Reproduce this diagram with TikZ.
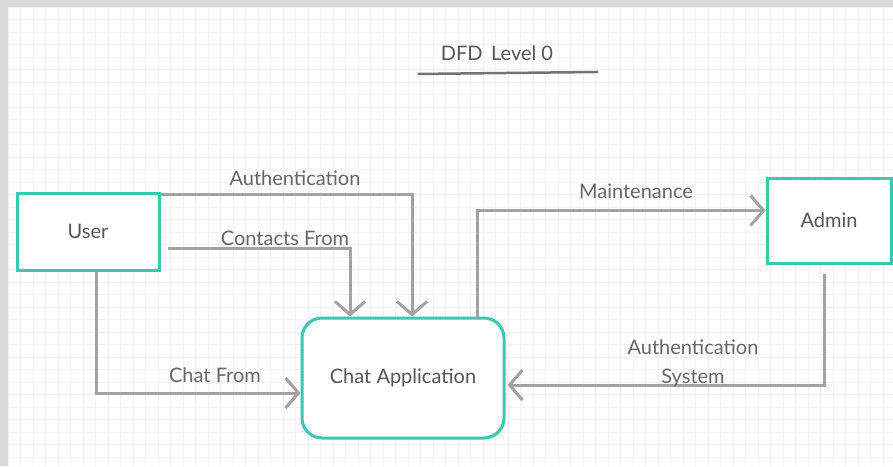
\documentclass[tikz,border=0pt]{standalone}
\usepackage{fontspec}
\setmainfont{Lato}
\usepackage{xcolor}
\usetikzlibrary{arrows.meta,positioning,calc}
\definecolor{teal}{HTML}{3EC6AE}
\definecolor{flowgray}{HTML}{A2A2A2}
\definecolor{textgray}{HTML}{555555}
\definecolor{labelgray}{HTML}{666666}
\definecolor{gridgray}{HTML}{F3F3F3}
\definecolor{bandgray}{HTML}{DADADA}
\tikzset{
  entity/.style={draw=teal,line width=3pt,fill=white,text=textgray,font=\fontsize{20}{24}\selectfont},
  flow/.style={draw=flowgray,line width=3pt,-{Straight Barb[length=13pt,width=30pt]}},
  flowlabel/.style={text=labelgray,font=\fontsize{20}{29}\selectfont,align=center,inner sep=1pt}
}

\begin{document}
\begin{tikzpicture}[x=1pt,y=-1pt]
      \useasboundingbox (0,0) rectangle (893,466);
      \fill[white] (0,0) rectangle (893,466);
      % faint grid
      \foreach \gx in {8,20.5,...,893} {
        \draw[gridgray,line width=0.6pt] (\gx,7) -- (\gx,466);
      }
      \foreach \gy in {7,19.5,...,466} {
        \draw[gridgray,line width=0.6pt] (8,\gy) -- (893,\gy);
      }
      \fill[bandgray] (0,0) rectangle (893,7);
      \fill[bandgray] (0,0) rectangle (8,466);
      % title
      \node[text=textgray,font=\fontsize{20}{24}\selectfont] (title) at (497,53) {DFD\, Level 0};
      \draw[black!55,line width=2.5pt] ($(title.south)+(-79,10)$) coordinate (ulL) -- ($(title.south)+(101,8)$) coordinate (ulR);
      % entities and process
      \node[entity,minimum width=142pt,minimum height=77pt] (user) at (88,231.5) {User};
      \node[entity,minimum width=124pt,minimum height=85pt] (admin) at (829,220.5) {Admin};
      \node[entity,rounded corners=20pt,minimum width=202pt,minimum height=120pt] (app) at (403,378) {Chat Application};
      % flows
      \draw[flow] ($(user.north east)+(0,3)$) -| ($(app.north)+(9,0)$);
      \draw[flow] ($(user.east)+(7,17)$) -| ($(app.north)+(-53,0)$);
      \draw[flow] ($(user.south)+(8,0)$) |- ($(app.west)+(0,15)$);
      \draw[flow] ($(app.north)+(74,0)$) |- ($(admin.west)+(0,-10)$);
      \draw[flow] ($(admin.south)+(-5,9)$) |- ($(app.east)+(2,7)$);
      % labels
      \node[flowlabel] (lauth) at (295,178) {Authentication};
      \node[flowlabel] (lcont) at (285,238) {Contacts From};
      \node[flowlabel] (lchat) at (215,375) {Chat From};
      \node[flowlabel] (lmaint) at (636,191) {Maintenance};
      \node[flowlabel] (lsys) at (693,363) {Authentication\\System};
    \end{tikzpicture}
\end{document}
